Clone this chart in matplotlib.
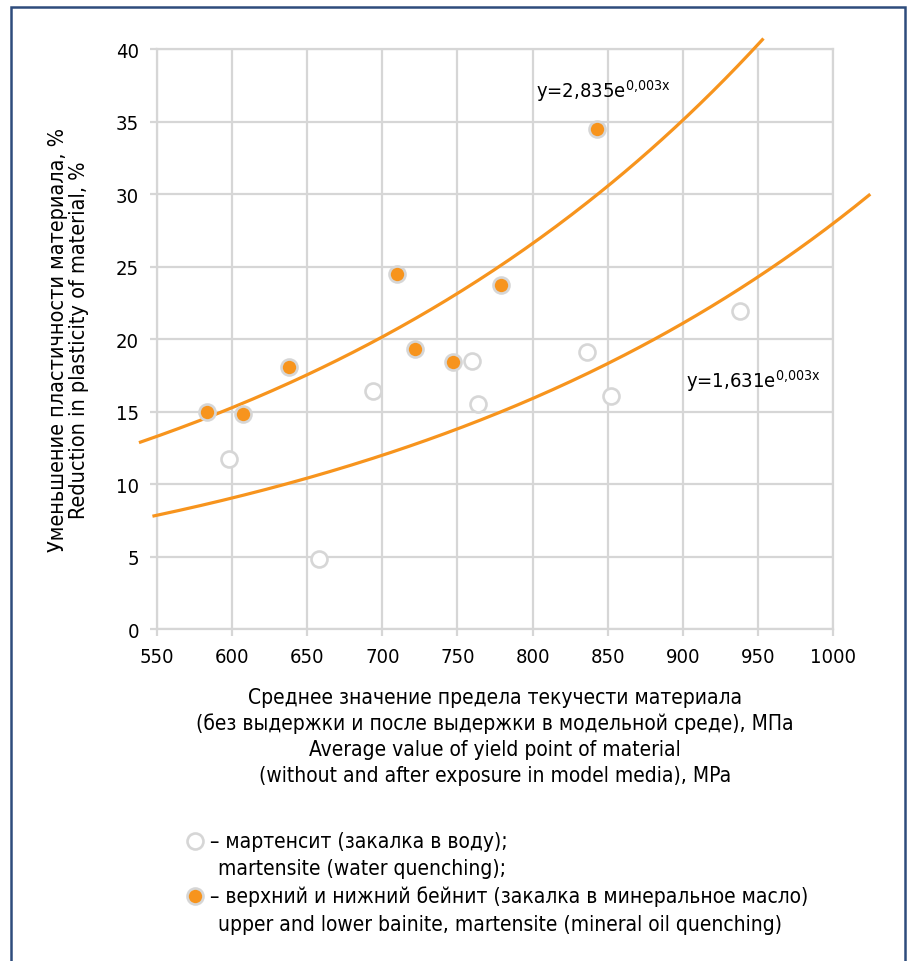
import matplotlib
matplotlib.use("Agg")
import matplotlib.pyplot as plt
import numpy as np

plt.rcParams['font.family'] = ['DejaVu Sans']
plt.rcParams['font.stretch'] = 'condensed'

# yield point (MPa) vs reduction in plasticity (%)
bainite_x = [583, 607, 638, 710, 722, 747, 779, 843]
bainite_y = [15.0, 14.8, 18.1, 24.5, 19.3, 18.4, 23.7, 34.5]

martensite_x = [598, 658, 694, 760, 764, 836, 852, 938]
martensite_y = [11.7, 4.8, 16.4, 18.5, 15.5, 19.1, 16.1, 21.9]

# exponential trend lines as drawn (a * exp(k * x)), with their x spans
upper_a, upper_k, upper_span = 2.89, 0.002774, (539, 953)
lower_a, lower_k, lower_span = 1.66, 0.002824, (548, 1024)

x_ticks = [550, 600, 650, 700, 750, 800, 850, 900, 950, 1000]
y_ticks = [0, 5, 10, 15, 20, 25, 30, 35, 40]

orange = '#f7941d'
grid_c = '#d6d6d6'

fig = plt.figure(figsize=(9.08, 9.62), dpi=100)
ax = fig.add_axes([0.1729, 0.3451, 0.7445, 0.6029])

ax.set_xlim(550, 1000)
ax.set_ylim(0, 40)
ax.set_xticks(x_ticks)
ax.set_yticks(y_ticks)
ax.grid(True, color=grid_c, linewidth=1.6)
ax.set_axisbelow(True)
for s in ax.spines.values():
    s.set_color(grid_c)
    s.set_linewidth(1.6)
ax.tick_params(length=5, width=1.6, color=grid_c, labelsize=14.5, pad=8)

# trend lines
xu = np.linspace(*upper_span, 200)
ax.plot(xu, upper_a * np.exp(upper_k * xu), color=orange, lw=2.3, clip_on=False, zorder=3)
xl = np.linspace(*lower_span, 200)
ax.plot(xl, lower_a * np.exp(lower_k * xl), color=orange, lw=2.3, clip_on=False, zorder=3)

ax.plot(martensite_x, martensite_y, 'o', ms=11.5, mfc='white', mec=grid_c, mew=1.9, zorder=4)
ax.plot(bainite_x, bainite_y, 'o', ms=11.5, mfc=orange, mec=grid_c, mew=1.9, zorder=4)

ax.text(802, 37.2, r'y=2,835e$\mathregular{^{0{,}003x}}$', fontsize=14.5, va='center', ha='left')
ax.text(902, 17.2, r'y=1,631e$\mathregular{^{0{,}003x}}$', fontsize=14.5, va='center', ha='left')

ax.set_ylabel('Уменьшение пластичности материала, %\nReduction in plasticity of material, %',
              fontsize=15.5, labelpad=19, linespacing=1.1)
ax.set_xlabel('Среднее значение предела текучести материала\n'
              '(без выдержки и после выдержки в модельной среде), МПа\n'
              'Average value of yield point of material\n'
              '(without and after exposure in model media), MPa',
              fontsize=15, labelpad=15, linespacing=1.35)

# legend drawn as figure text
fig.lines.append(plt.Line2D([195 / 908], [1 - 842 / 962], marker='o', ms=11.5, mfc='white',
                            mec=grid_c, mew=1.9, transform=fig.transFigure))
fig.lines.append(plt.Line2D([195 / 908], [1 - 897 / 962], marker='o', ms=11.5, mfc=orange,
                            mec=grid_c, mew=1.9, transform=fig.transFigure))
fig.text(210 / 908, 1 - 842 / 962, '– мартенсит (закалка в воду);', fontsize=15, va='center')
fig.text(218 / 908, 1 - 869 / 962, 'martensite (water quenching);', fontsize=15, va='center')
fig.text(210 / 908, 1 - 897 / 962, '– верхний и нижний бейнит (закалка в минеральное масло)',
         fontsize=15, va='center')
fig.text(218 / 908, 1 - 925 / 962, 'upper and lower bainite, martensite (mineral oil quenching)',
         fontsize=15, va='center')

# outer frame
fig.patches.append(plt.Rectangle((11 / 908, -0.02), 894 / 908, 1.02 - 8 / 962, fill=False,
                                 edgecolor='#2e4c7c', linewidth=1.8, transform=fig.transFigure))

fig.savefig('out.png', dpi=100)
